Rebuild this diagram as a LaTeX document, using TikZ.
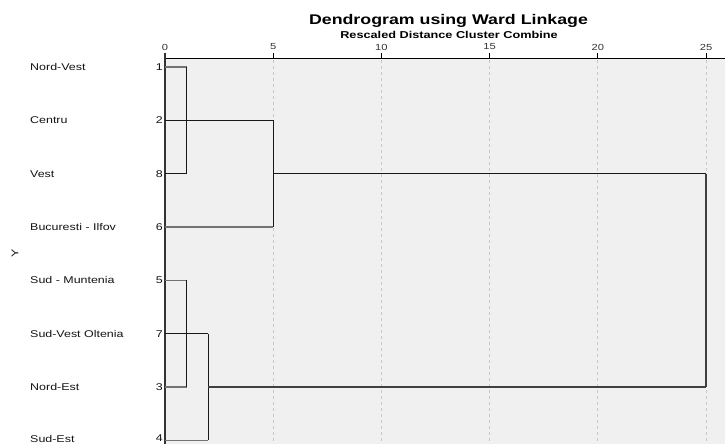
\documentclass[tikz,border=0pt]{standalone}
\usepackage{fontspec}
\setmainfont{Liberation Sans}
\newfontfamily\widesans[FakeStretch=1.27]{Liberation Sans}
\begin{document}
\begin{tikzpicture}[x=1pt,y=-1pt,
  lab/.style={font=\widesans\fontsize{9.8}{11}\selectfont, text=black!92, inner sep=0pt},
  ticklab/.style={font=\widesans\fontsize{8.8}{10}\selectfont, text=black!80, inner sep=0pt},
  link/.style={line width=1.1pt, draw=black!90},
  leaf/.style={line width=1.1pt, draw=black!55},
  gridline/.style={draw=black!22, dash pattern=on 3pt off 3pt, line width=0.8pt}]
\useasboundingbox (0,0) rectangle (725,444);
\fill[white] (0,0) rectangle (725,444);
% plot panel
\fill[black!6] (165,58.5) rectangle (725,444);
% distance scale: 21.64 px per unit, 0 at x=165
\foreach \k in {5,10,...,25}
  \draw[gridline] ({165+21.64*\k},60) -- ({165+21.64*\k},444);
\draw[black, line width=1pt] (165,58.5) -- (725,58.5);
\foreach \k in {0,5,...,25}{
  \draw[black, line width=0.8pt] ({165+21.64*\k},53.5) -- ({165+21.64*\k},58.5);
  \node[ticklab] (tk\k) at ({165+21.64*\k},47) {\k};
}
\draw[black!80, line width=1.8pt] (165,53) -- (165,444);
% titles
\node[font=\widesans\bfseries\fontsize{14}{16}\selectfont, inner sep=0pt] (title) at (448.5,20.8) {Dendrogram using Ward Linkage};
\node[font=\widesans\bfseries\fontsize{10}{12}\selectfont, inner sep=0pt] (subtitle) at (449,34.5) {Rescaled Distance Cluster Combine};
\node[lab, rotate=90] (yaxis) at (15,253) {Y};
% leaves (row positions in px)
\foreach \n/\name/\yy in {1/Nord-Vest/67, 2/Centru/120.3, 8/Vest/173.7, 6/Bucuresti - Ilfov/227, 5/Sud - Muntenia/280.3, 7/Sud-Vest Oltenia/333.7, 3/Nord-Est/387, 4/Sud-Est/440.3}{
  \coordinate (r\n) at (165,\yy);
}
\foreach \n/\name/\yy in {1/Nord-Vest/67, 2/Centru/120.3, 8/Vest/173.7, 6/Bucuresti - Ilfov/227, 5/Sud - Muntenia/280.3, 7/Sud-Vest Oltenia/333.7, 3/Nord-Est/387, 4/Sud-Est/438.6}{
  \node[lab, anchor=west] (t\n) at (30,\yy) {\name};
  \node[lab, anchor=east] (n\n) at (163,\yy) {\n};
}
% merge heights (px)
\def\hA{186.6}  % distance 1
\def\hB{208.3}  % distance 2
\def\hC{273.2}  % distance 5
\def\hD{706}    % distance 25
\coordinate (a1) at (\hA,0 |- r1);
\coordinate (a8) at (\hA,0 |- r8);
\coordinate (c2) at (\hC,0 |- r2);
\coordinate (c6) at (\hC,0 |- r6);
\coordinate (c8) at (\hC,0 |- r8);
\coordinate (d8) at (\hD,0 |- r8);
\coordinate (a5) at (\hA,0 |- r5);
\coordinate (a3) at (\hA,0 |- r3);
\coordinate (b7) at (\hB,0 |- r7);
\coordinate (b4) at (\hB,0 |- r4);
\coordinate (b3) at (\hB,0 |- r3);
\coordinate (d3) at (\hD,0 |- r3);
% upper cluster
\draw[leaf] (r1) -- (a1);
\draw[link] (r8) -- (a8);
\draw[link] (a1) -- (a8);
\draw[link] (r2) -- (c2);
\draw[leaf] (r6) -- (c6);
\draw[link] (c2) -- (c6);
\draw[link] (c8) -- (d8);
% lower cluster
\draw[leaf] (r5) -- (a5);
\draw[leaf] (r3) -- (a3);
\draw[link] (a5) -- (a3);
\draw[link] (r7) -- (b7);
\draw[leaf] (r4) -- (b4);
\draw[link] (b7) -- (b4);
\draw[black!75, line width=1.1pt] (b3) -- (d3);
% root
\draw[black!75, line width=1.8pt] (d8) -- (d3);
\end{tikzpicture}
\end{document}
